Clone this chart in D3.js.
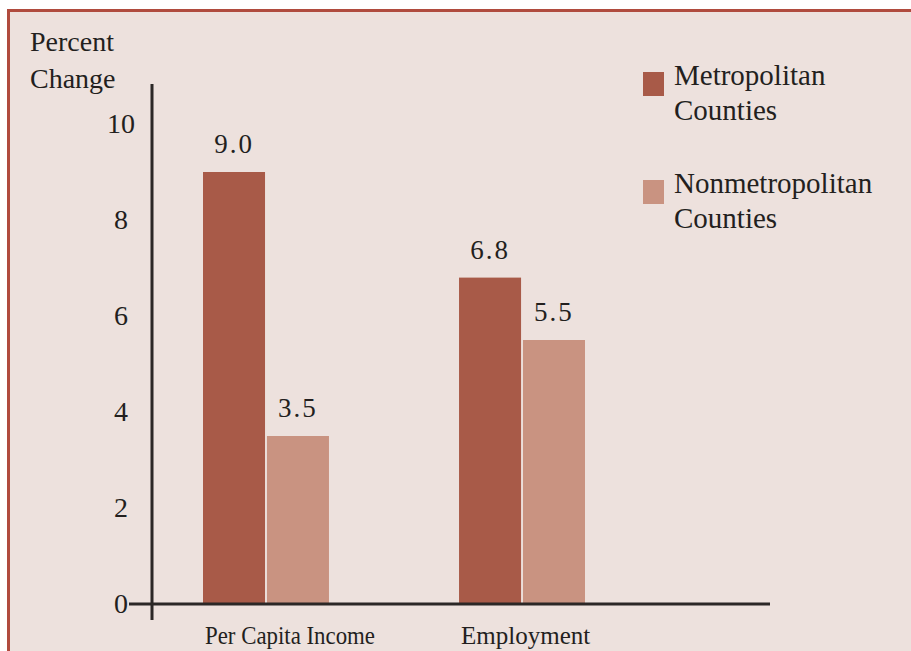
<!DOCTYPE html>
<html>
<head>
<meta charset="utf-8">
<script src="https://cdn.jsdelivr.net/npm/d3@7"></script>
<style>
  html, body { margin: 0; padding: 0; background: #ffffff; }
  svg { display: block; }
  text { font-family: "Liberation Serif", "DejaVu Serif", serif; fill: #231f1e; }
</style>
</head>
<body>
<div id="chart"></div>
<script>
// data
var categories = ["Per Capita Income", "Employment"];
var seriesNames = ["Metropolitan Counties", "Nonmetropolitan Counties"];
var metroValues = [9.0, 6.8];
var nonmetroValues = [3.5, 5.5];
var yTicks = [0, 2, 4, 6, 8, 10];

var svgWidth = 911;
var svgHeight = 651;
var colors = ["#a85a48", "#c99381"];

var svg = d3.select("#chart")
  .append("svg")
  .attr("width", svgWidth)
  .attr("height", svgHeight);

// panel background + border (top and left only, the rest is cut off)
svg.append("rect")
  .attr("x", 8)
  .attr("y", 10)
  .attr("width", svgWidth - 8)
  .attr("height", svgHeight - 10)
  .attr("fill", "#ede1dd");
svg.append("line")
  .attr("x1", 7).attr("x2", svgWidth)
  .attr("y1", 10.5).attr("y2", 10.5)
  .attr("stroke", "#b04b3e").attr("stroke-width", 3);
svg.append("line")
  .attr("x1", 8.5).attr("x2", 8.5)
  .attr("y1", 9).attr("y2", svgHeight)
  .attr("stroke", "#b04b3e").attr("stroke-width", 3);

// scales
var yScale = d3.scaleLinear()
  .domain([0, 10])
  .range([604, 124]);

var x0 = d3.scaleBand()
  .domain(categories)
  .range([203, 585])
  .paddingInner(0.508)
  .paddingOuter(0);

var x1 = d3.scaleBand()
  .domain(seriesNames)
  .range([0, x0.bandwidth()])
  .paddingInner(0.03);

var rows = categories.map(function(c, i) {
  return { category: c, values: [metroValues[i], nonmetroValues[i]] };
});

// bars
var groups = svg.selectAll(".group")
  .data(rows)
  .enter()
  .append("g")
  .attr("class", "group")
  .attr("transform", d => `translate(${x0(d.category)}, 0)`);

groups.selectAll("rect")
  .data(d => d.values.map((v, j) => ({ series: seriesNames[j], value: v, idx: j })))
  .enter()
  .append("rect")
  .attr("x", d => x1(d.series))
  .attr("y", d => yScale(d.value))
  .attr("width", x1.bandwidth())
  .attr("height", d => yScale(0) - yScale(d.value))
  .attr("fill", d => colors[d.idx]);

// value labels
groups.selectAll(".val")
  .data(d => d.values.map((v, j) => ({ series: seriesNames[j], value: v })))
  .enter()
  .append("text")
  .attr("class", "val")
  .attr("x", d => x1(d.series) + x1.bandwidth() / 2)
  .attr("y", d => yScale(d.value) - 19)
  .attr("text-anchor", "middle")
  .style("font-size", "27px")
  .style("letter-spacing", "2px")
  .text(d => d.value.toFixed(1));

// y axis labels (no tick marks)
var leftAxis = d3.axisLeft(yScale)
  .tickValues(yTicks)
  .tickSize(0)
  .tickPadding(0);

var yAxis = svg.append("g")
  .attr("transform", "translate(121, 0)")
  .call(leftAxis);
yAxis.select(".domain").remove();
yAxis.selectAll("text")
  .attr("text-anchor", "middle")
  .attr("x", 0)
  .style("font-size", "28px")
  .style("font-family", "Liberation Serif, serif")
  .attr("fill", "#231f1e");

// axis lines
svg.append("line")
  .attr("x1", 152).attr("x2", 152)
  .attr("y1", yScale(10) - 40).attr("y2", yScale(0) + 16)
  .attr("stroke", "#2b2726").attr("stroke-width", 3);
svg.append("line")
  .attr("x1", 129).attr("x2", 770)
  .attr("y1", yScale(0)).attr("y2", yScale(0))
  .attr("stroke", "#2b2726").attr("stroke-width", 3);

// category labels
svg.selectAll(".cat")
  .data(categories)
  .enter()
  .append("text")
  .attr("class", "cat")
  .attr("x", d => x0(d) + 2)
  .attr("y", 644)
  .style("font-size", "25px")
  .each(function(d, i) {
    // the first label is set a bit condensed in the original
    if (i === 0) {
      d3.select(this).attr("textLength", 170).attr("lengthAdjust", "spacingAndGlyphs");
    }
  })
  .text(d => d);

// y axis title
svg.append("text")
  .attr("x", 30).attr("y", 51)
  .style("font-size", "28px")
  .text("Percent");
svg.append("text")
  .attr("x", 30).attr("y", 88)
  .style("font-size", "28px")
  .text("Change");

// legend
var legend = svg.selectAll(".legend")
  .data(seriesNames)
  .enter()
  .append("g")
  .attr("class", "legend")
  .attr("transform", (d, i) => `translate(643, ${72 + i * 108})`);

legend.append("rect")
  .attr("width", 21)
  .attr("height", 24)
  .attr("fill", (d, i) => colors[i]);

legend.append("text")
  .attr("x", 31)
  .attr("y", 13)
  .style("font-size", "29px")
  .text(d => d.split(" ")[0]);

legend.append("text")
  .attr("x", 31)
  .attr("y", 48)
  .style("font-size", "29px")
  .text(d => d.split(" ")[1]);
</script>
</body>
</html>
